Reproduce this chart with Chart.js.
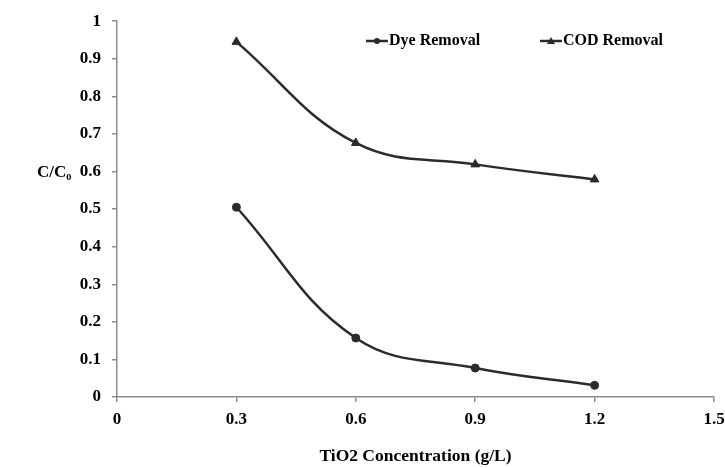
<!DOCTYPE html>
<html>
<head>
<meta charset="utf-8">
<script src="https://cdn.jsdelivr.net/npm/chart.js@4/dist/chart.umd.min.js"></script>
<style>
  html, body { margin: 0; padding: 0; background: #fff; }
  #wrap { position: relative; width: 725px; height: 468px; }
</style>
</head>
<body>
<div id="wrap"><canvas id="chart" width="725" height="468"></canvas></div>
<script>
const concentration = [0.3, 0.6, 0.9, 1.2];
const dyeRemoval = [0.505, 0.157, 0.077, 0.031];
const codRemoval = [0.945, 0.676, 0.619, 0.579];
const xTicks = [0, 0.3, 0.6, 0.9, 1.2, 1.5];
const yTicks = [0, 0.1, 0.2, 0.3, 0.4, 0.5, 0.6, 0.7, 0.8, 0.9, 1];

const INK = '#2b2b2b';
const AXIS = '#8c8c8c';
const SERIF = "'Liberation Serif', 'Times New Roman', serif";

const pts = ys => concentration.map((x, i) => ({ x, y: ys[i] }));

// legend + horizontal y title, drawn inside the plot like the original
const extras = {
  id: 'extras',
  afterDraw(chart) {
    const ctx = chart.ctx;
    ctx.save();
    ctx.fillStyle = '#000';
    ctx.font = 'bold 17px ' + SERIF;
    ctx.textAlign = 'left';
    ctx.textBaseline = 'middle';
    ctx.fillText('C/C\u2080', 37, 173);

    const items = [
      { x: 366, ds: chart.data.datasets[0] },
      { x: 540, ds: chart.data.datasets[1] }
    ];
    ctx.font = 'bold 16px ' + SERIF;
    items.forEach(it => {
      const y = 41;
      ctx.strokeStyle = INK;
      ctx.lineWidth = 2.5;
      ctx.beginPath();
      ctx.moveTo(it.x, y);
      ctx.lineTo(it.x + 22, y);
      ctx.stroke();
      ctx.fillStyle = INK;
      if (it.ds.pointStyle === 'triangle') {
        ctx.beginPath();
        ctx.moveTo(it.x + 11, y - 4);
        ctx.lineTo(it.x + 15, y + 3);
        ctx.lineTo(it.x + 7, y + 3);
        ctx.closePath();
        ctx.fill();
      } else {
        ctx.beginPath();
        ctx.arc(it.x + 11, y, 3, 0, Math.PI * 2);
        ctx.fill();
      }
      ctx.fillStyle = '#000';
      ctx.fillText(it.ds.label, it.x + 23, y);
    });
    ctx.restore();
  }
};

new Chart('chart', {
  type: 'line',
  data: {
    datasets: [
      { label: 'Dye Removal', data: pts(dyeRemoval), borderColor: INK, backgroundColor: INK,
        borderWidth: 2.5, tension: 0.4, pointStyle: 'circle', pointRadius: 4, pointBorderWidth: 1, pointHoverRadius: 4 },
      { label: 'COD Removal', data: pts(codRemoval), borderColor: INK, backgroundColor: INK,
        borderWidth: 2.5, tension: 0.4, pointStyle: 'triangle', pointRadius: 5, pointBorderWidth: 1, pointHoverRadius: 5 }
    ]
  },
  options: {
    responsive: false,
    animation: false,
    layout: { padding: { top: 15, right: 0, left: 0, bottom: 0 } },
    plugins: { legend: { display: false }, tooltip: { enabled: false } },
    scales: {
      x: {
        type: 'linear', min: 0, max: 1.5,
        afterBuildTicks: s => { s.ticks = xTicks.map(v => ({ value: v })); },
        afterFit: s => { s.height = 71; s.paddingRight = 11; },
        grid: { drawOnChartArea: false, color: AXIS, tickLength: 5, lineWidth: 1.5 },
        border: { color: AXIS, width: 1.5 },
        ticks: { color: '#000', padding: 7, font: { family: SERIF, size: 17, weight: 'bold' },
          callback: v => String(+v.toFixed(1)) },
        title: { display: true, text: 'TiO2 Concentration (g/L)', color: '#000',
          font: { family: SERIF, size: 17.5, weight: 'bold' }, padding: { top: 0, bottom: 1 } }
      },
      y: {
        type: 'linear', min: 0, max: 1,
        afterBuildTicks: s => { s.ticks = yTicks.map(v => ({ value: v })); },
        afterFit: s => { s.width = 117; },
        grid: { drawOnChartArea: false, color: AXIS, tickLength: 5, lineWidth: 1.5 },
        border: { color: AXIS, width: 1.5 },
        ticks: { color: '#000', padding: 11, font: { family: SERIF, size: 17, weight: 'bold' },
          callback: v => String(+v.toFixed(1)) }
      }
    }
  },
  plugins: [extras]
});
</script>
</body>
</html>
